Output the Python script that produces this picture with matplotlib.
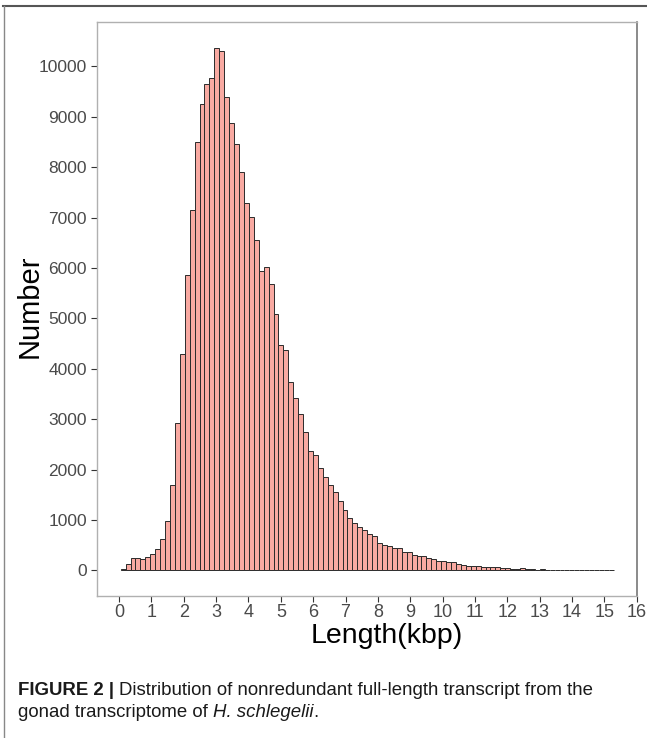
import numpy as np
import matplotlib
matplotlib.use('Agg')
import matplotlib.pyplot as plt
from matplotlib.lines import Line2D

plt.rcParams['font.family'] = ['Liberation Sans', 'DejaVu Sans']

# histogram of transcript lengths (kbp), 100 bins
bin_start = 0.05
bin_width = 0.1524
counts = [
    25, 130, 250, 250, 220, 270, 320, 430, 620, 970,
    1700, 2930, 4300, 5850, 7150, 8490, 9250, 9640, 9760, 10360,
    10300, 9400, 8880, 8450, 7900, 7290, 7020, 6560, 5930, 6020,
    5690, 5080, 4470, 4370, 3730, 3420, 3110, 2750, 2370, 2280,
    2030, 1860, 1690, 1560, 1380, 1190, 1035, 930, 860, 795,
    725, 675, 545, 510, 490, 440, 440, 370, 360, 300,
    275, 275, 240, 220, 185, 185, 165, 165, 120, 113,
    95, 90, 85, 70, 66, 62, 60, 48, 36, 28,
    22, 38, 26, 20, 16, 32, 16, 12, 12, 10,
    10, 9, 8, 8, 7, 7, 10, 6, 5, 5,
]
x_ticks = list(range(0, 17))
y_ticks = list(range(0, 10001, 1000))

lefts = bin_start + bin_width * np.arange(len(counts))

fig = plt.figure(figsize=(6.47, 7.38), dpi=100)
ax = fig.add_axes([0.1495, 0.1924, 0.8346, 0.7778])

ax.bar(lefts, counts, width=bin_width, align='edge',
       color='#F9AAA2', edgecolor='#2b2b2b', linewidth=0.7)

ax.set_xlim(-0.69, 16.0)
ax.set_ylim(-510, 10880)
ax.set_xticks(x_ticks)
ax.set_yticks(y_ticks)
ax.tick_params(axis='both', labelsize=12.5, colors='#333333', length=4, width=0.8,
               labelcolor='#4a4a4a')
ax.tick_params(axis='x', labelsize=13, pad=2)
ax.tick_params(axis='y', pad=3)

for side in ['top', 'left', 'bottom']:
    ax.spines[side].set_color('#b0b0b0')
    ax.spines[side].set_linewidth(1.0)
ax.spines['right'].set_color('#777777')
ax.spines['right'].set_linewidth(1.2)

fig.text(0.046, 0.585, 'Number', rotation=90, fontsize=21,
         ha='center', va='center', color='black')
fig.text(0.597, 0.1385, 'Length(kbp)', fontsize=20.5,
         ha='center', va='center', color='black')

# page frame lines
fig.add_artist(Line2D([0.005, 1.0], [0.992, 0.992], color='#555555', lw=1.5,
                      transform=fig.transFigure))
fig.add_artist(Line2D([0.006, 0.006], [0.0, 0.992], color='#888888', lw=1.0,
                      transform=fig.transFigure))

# caption, drawn piece by piece so bold/italic parts sit next to each other
renderer = fig.canvas.get_renderer()


def caption_line(x, y, pieces):
    for txt, kw in pieces:
        t = fig.text(x, y, txt, fontsize=13.4, va='baseline', color='#1a1a1a', **kw)
        bb = t.get_window_extent(renderer=renderer)
        x += bb.width / fig.bbox.width


caption_line(0.028, 0.058, [('FIGURE 2 | ', dict(fontweight='bold')),
                            ('Distribution of nonredundant full-length transcript from the', {})])
caption_line(0.028, 0.028, [('gonad transcriptome of ', {}),
                            ('H. schlegelii', dict(style='italic')),
                            ('.', {})])

plt.savefig('out.png', dpi=100)
